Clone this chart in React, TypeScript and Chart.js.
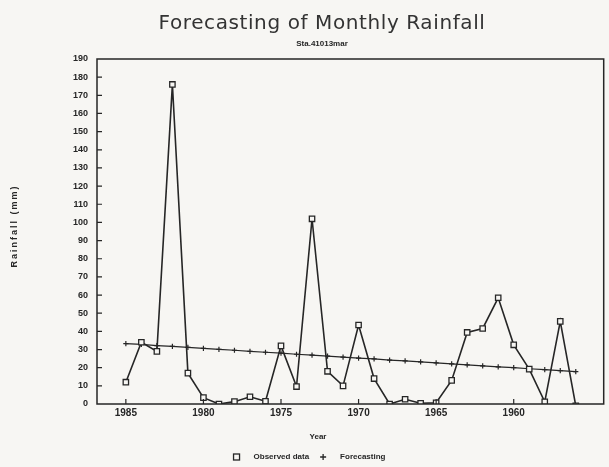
import React, { useEffect, useRef } from "react";
import { Chart, registerables } from "chart.js";

Chart.register(...registerables);

const titleText = "Forecasting of Monthly Rainfall";
const subtitleText = "Sta.41013mar";
const xAxisTitle = "Year";
const yAxisTitle = "Rainfall (mm)";
const seriesNames = ["Observed data", "Forecasting"];

const years = [
  1985, 1984, 1983, 1982, 1981, 1980, 1979, 1978, 1977, 1976,
  1975, 1974, 1973, 1972, 1971, 1970, 1969, 1968, 1967, 1966,
  1965, 1964, 1963, 1962, 1961, 1960, 1959, 1958, 1957, 1956,
];
const observed = [
  12, 34, 29, 176, 17, 3.5, 0, 1.3, 4, 1.5,
  32, 9.6, 102, 18, 10, 43.5, 14, 0, 2.6, 0.4,
  0.7, 13, 39.4, 41.6, 58.5, 32.6, 19.2, 1.2, 45.5, -1,
];
const forecast = [
  33.3, 32.8, 32.2, 31.7, 31.2, 30.6, 30.1, 29.6, 29.0, 28.5,
  28.0, 27.4, 26.9, 26.4, 25.8, 25.3, 24.8, 24.2, 23.7, 23.2,
  22.6, 22.1, 21.6, 21.0, 20.5, 20.0, 19.4, 18.9, 18.4, 17.8,
];
const xTickYears = [1985, 1980, 1975, 1970, 1965, 1960];
const yMin = 0;
const yMax = 190;
const yStep = 10;
const xMaxYear = 1986.86;
const xMinYear = 1954.2;

const INK = "#262626";
const BG = "#f7f6f3";
const FAMILY = "'Liberation Sans', Arial, sans-serif";

const backgroundPlugin = {
  id: "bgFill",
  beforeDraw(chart: any) {
    const ctx = chart.ctx;
    ctx.save();
    ctx.fillStyle = BG;
    ctx.fillRect(0, 0, chart.width, chart.height);
    ctx.restore();
  },
};

const framePlugin = {
  id: "frameAndTexts",
  afterDraw(chart: any) {
    const ctx = chart.ctx;
    const a = chart.chartArea;
    const xs = chart.scales.x;
    const ys = chart.scales.y;
    ctx.save();
    // plot frame
    ctx.strokeStyle = INK;
    ctx.lineWidth = 1.5;
    ctx.strokeRect(a.left, a.top, a.right - a.left, a.bottom - a.top);
    // inward ticks
    ctx.lineWidth = 1.2;
    ctx.beginPath();
    for (let v = yMin + yStep; v < yMax; v += yStep) {
      const y = ys.getPixelForValue(v);
      ctx.moveTo(a.left, y);
      ctx.lineTo(a.left + 5, y);
    }
    for (const yr of xTickYears) {
      const x = xs.getPixelForValue(yr);
      ctx.moveTo(x, a.bottom);
      ctx.lineTo(x, a.bottom - 5);
    }
    ctx.stroke();

    // title + subtitle
    ctx.textAlign = "center";
    ctx.fillStyle = "#333333";
    ctx.textBaseline = "alphabetic";
    ctx.font = "20px 'DejaVu Sans', sans-serif";
    (ctx as any).letterSpacing = "0.6px";
    ctx.fillText(titleText, 322, 29);
    (ctx as any).letterSpacing = "0px";
    ctx.fillStyle = INK;
    ctx.textBaseline = "middle";
    ctx.font = `bold 8px ${FAMILY}`;
    ctx.fillText(subtitleText, 322, 44);
    // x axis title
    ctx.font = `bold 8px ${FAMILY}`;
    ctx.fillText(xAxisTitle, 318, 437);
    // y axis title (rotated)
    ctx.save();
    ctx.translate(15, 226);
    ctx.rotate(-Math.PI / 2);
    ctx.font = `bold 9px ${FAMILY}`;
    (ctx as any).letterSpacing = "2px";
    ctx.fillText(yAxisTitle, 0, 0);
    (ctx as any).letterSpacing = "0px";
    ctx.restore();

    // legend
    const ds = chart.data.datasets;
    ctx.font = `bold 8px ${FAMILY}`;
    const markerGap = 17;
    const itemGap = 14;
    const widths = ds.map((d: any) => ctx.measureText(d.label).width);
    let total = 0;
    widths.forEach((w: number, i: number) => {
      total += markerGap + w + (i < widths.length - 1 ? itemGap + 0 : 0);
    });
    let x = 311 - total / 2;
    const ly = 457;
    ctx.textAlign = "left";
    ds.forEach((d: any, i: number) => {
      ctx.strokeStyle = INK;
      ctx.lineWidth = 1.3;
      if (d.pointStyle === "rect") {
        ctx.fillStyle = BG;
        ctx.fillRect(x - 3, ly - 3, 6, 6);
        ctx.strokeRect(x - 3, ly - 3, 6, 6);
      } else {
        ctx.beginPath();
        ctx.moveTo(x - 3, ly);
        ctx.lineTo(x + 3, ly);
        ctx.moveTo(x, ly - 3);
        ctx.lineTo(x, ly + 3);
        ctx.stroke();
      }
      ctx.fillStyle = INK;
      ctx.fillText(d.label, x + markerGap, ly);
      x += markerGap + widths[i] + itemGap;
    });
    ctx.restore();
  },
};

export default function App() {
  const canvasRef = useRef<HTMLCanvasElement | null>(null);

  useEffect(() => {
    if (!canvasRef.current) return;
    const obsPoints = years.map((yr, i) => ({ x: yr, y: observed[i] }));
    const fcPoints = years.map((yr, i) => ({ x: yr, y: forecast[i] }));
    const chart = new Chart(canvasRef.current, {
      type: "line",
      data: {
        datasets: [
          {
            label: seriesNames[0],
            data: obsPoints,
            borderColor: INK,
            backgroundColor: BG,
            borderWidth: 1.6,
            pointStyle: "rect",
            pointRadius: 3.8,
            pointBorderWidth: 1.3,
            pointBorderColor: INK,
            pointBackgroundColor: BG,
            tension: 0,
          },
          {
            label: seriesNames[1],
            data: fcPoints,
            borderColor: INK,
            backgroundColor: INK,
            borderWidth: 1.2,
            pointStyle: "cross",
            pointRadius: 2.6,
            pointBorderWidth: 1.2,
            pointBorderColor: INK,
            tension: 0,
          },
        ],
      },
      options: {
        animation: false,
        responsive: false,
        layout: { padding: { top: 59, left: 0, right: 4, bottom: 23 } },
        plugins: {
          title: { display: false },
          tooltip: { enabled: false },
          legend: { display: false },
        },
        scales: {
          x: {
            type: "linear",
            reverse: true,
            min: xMinYear,
            max: xMaxYear,
            grid: { display: false, drawTicks: false },
            border: { display: false },
            afterBuildTicks(scale: any) {
              scale.ticks = xTickYears.map((v) => ({ value: v }));
            },
            afterFit(scale: any) {
              scale.height = 40;
            },
            ticks: {
              autoSkip: false,
              maxRotation: 0,
              padding: 3,
              color: INK,
              font: { family: FAMILY, size: 10, weight: "bold" },
              callback: (v: any) => String(v),
            },
          },
          y: {
            type: "linear",
            min: yMin,
            max: yMax,
            grid: { display: false, drawTicks: false },
            border: { display: false },
            afterFit(scale: any) {
              scale.width = 97;
            },
            ticks: {
              stepSize: yStep,
              padding: 9,
              color: INK,
              font: { family: FAMILY, size: 9, weight: "bold" },
              callback: (v: any) => String(v),
            },
          },
        },
      },
      plugins: [backgroundPlugin, framePlugin],
    });
    return () => chart.destroy();
  }, []);

  return (
    <div style={{ position: "fixed", left: 0, top: 0, width: 609, height: 467, background: BG }}>
      <canvas ref={canvasRef} width={609} height={467} style={{ display: "block" }} />
    </div>
  );
}
